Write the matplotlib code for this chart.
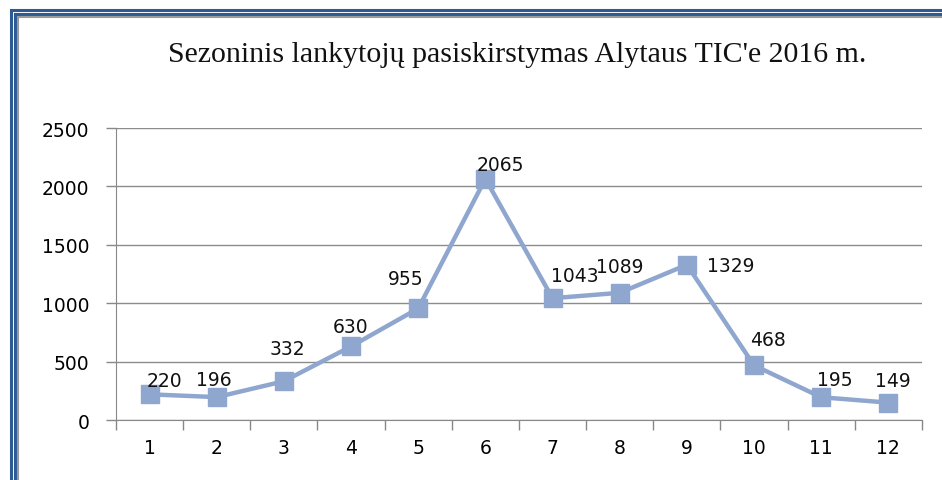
import matplotlib.pyplot as plt
from matplotlib.lines import Line2D

months = [1, 2, 3, 4, 5, 6, 7, 8, 9, 10, 11, 12]
visitors = [220, 196, 332, 630, 955, 2065, 1043, 1089, 1329, 468, 195, 149]
# label offsets (pixels) relative to each marker
label_dx = [15, -3, 4, 0, -13, 15, 22, 0, 44, 14, 14, 5]
label_dy = [14, 18, 33, 20, 30, 14, 23, 26, -1, 26, 18, 22]

title = "Sezoninis lankytojų pasiskirstymas Alytaus TIC'e 2016 m."

fig = plt.figure(figsize=(9.42, 4.81), dpi=100)
ax = fig.add_axes([0.1231, 0.1247, 0.8556, 0.6071])

x = list(range(len(months)))
ax.plot(x, visitors, color='#8FA6CF', lw=3.2, marker='s', ms=13,
        mfc='#8FA6CF', mec='#8FA6CF', zorder=3)

for xi, v, dx, dy in zip(x, visitors, label_dx, label_dy):
    ax.annotate(str(v), (xi, v), xytext=(dx, dy), textcoords='offset pixels',
                ha='center', va='center', fontsize=13.5, color='#111111', zorder=4)

ax.set_xlim(-0.5, len(months) - 0.5)
ax.set_ylim(0, 2500)
ax.set_yticks(range(0, 2501, 500))
ax.set_xticks([i - 0.5 for i in range(len(months) + 1)], minor=False)
ax.set_xticklabels([])
ax.set_xticks(x, minor=True)
ax.set_xticklabels([str(m) for m in months], minor=True)
ax.tick_params(axis='x', which='major', length=7, color='#888888', width=1)
ax.tick_params(axis='x', which='minor', length=0, pad=13, labelsize=13.5)
ax.tick_params(axis='y', length=7, color='#888888', width=1, pad=12, labelsize=13.5)
ax.yaxis.grid(True, color='#8C8C8C', lw=1)
ax.set_axisbelow(True)
for s in ['top', 'right']:
    ax.spines[s].set_visible(False)
for s in ['left', 'bottom']:
    ax.spines[s].set_color('#888888')

fig.text(0.5495, 0.885, title, ha='center', va='center', fontsize=21.5,
         family='Liberation Serif', color='#111111')

# double blue page border (top and left)
W, H = 942, 481
def fx(p): return p / W
def fy(p): return 1 - p / H
for off, col, lw in [(10.5, '#2E5A93', 2.2), (14.5, '#2E5A93', 2.2), (17.5, '#9A9A9A', 1.5)]:
    fig.add_artist(Line2D([fx(off), 1], [fy(off), fy(off)], color=col, lw=lw))
    fig.add_artist(Line2D([fx(off), fx(off)], [fy(off), 0], color=col, lw=lw))

fig.savefig('out.png', dpi=100, facecolor='white')
